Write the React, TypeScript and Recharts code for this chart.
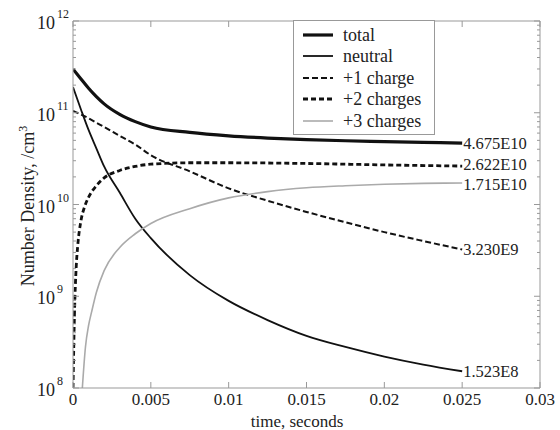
import { LineChart, Line, XAxis, YAxis, Legend } from "recharts";

// values (log y axis)
const timeMain = [0, 0.0005, 0.001, 0.0015, 0.002, 0.003, 0.004, 0.005, 0.0075, 0.01, 0.0125, 0.015, 0.0175, 0.02, 0.0225, 0.025];
const totalValues = [3.0e11, 2.35e11, 1.85e11, 1.5e11, 1.25e11, 9.6e10, 8.0e10, 7.0e10, 6.1e10, 5.6e10, 5.3e10, 5.1e10, 4.95e10, 4.85e10, 4.75e10, 4.675e10];
const neutralValues = [1.9e11, 1.1e11, 6.5e10, 4.1e10, 2.6e10, 1.35e10, 7.0e9, 4.3e9, 1.7e9, 8.9e8, 5.5e8, 3.7e8, 2.8e8, 2.2e8, 1.8e8, 1.523e8];
const plus1Values = [1.05e11, 9.6e10, 8.7e10, 7.8e10, 7.0e10, 5.6e10, 4.5e10, 3.45e10, 2.3e10, 1.5e10, 1.1e10, 8.3e9, 6.4e9, 5.0e9, 4.0e9, 3.23e9];

const timePlus2 = [0, 0.0001, 0.0002, 0.0003, 0.0005, 0.00075, 0.001, 0.0015, 0.002, 0.003, 0.004, 0.005, 0.0075, 0.01, 0.015, 0.02, 0.025];
const plus2Values = [1e8, 7e8, 2e9, 3.5e9, 6.5e9, 9.5e9, 1.2e10, 1.6e10, 1.95e10, 2.35e10, 2.6e10, 2.75e10, 2.85e10, 2.85e10, 2.8e10, 2.7e10, 2.622e10];

const timePlus3 = [0.0006, 0.0008, 0.001, 0.0012, 0.0015, 0.002, 0.003, 0.004, 0.005, 0.0075, 0.01, 0.0125, 0.015, 0.0175, 0.02, 0.0225, 0.025];
const plus3Values = [1e8, 2.8e8, 4.8e8, 6.8e8, 1.1e9, 1.9e9, 3.4e9, 4.8e9, 6.2e9, 9.0e9, 1.18e10, 1.38e10, 1.52e10, 1.6e10, 1.66e10, 1.7e10, 1.715e10];

const seriesNames = ["total", "neutral", "+1 charge", "+2 charges", "+3 charges"];
const endLabels = ["4.675E10", "1.523E8", "3.230E9", "2.622E10", "1.715E10"];

const xTicks = [0, 0.005, 0.01, 0.015, 0.02, 0.025, 0.03];
const xTickLabels = ["0", "0.005", "0.01", "0.015", "0.02", "0.025", "0.03"];
const decades = [8, 9, 10, 11, 12];
const minorSteps = [2, 3, 4, 5, 6, 7, 8, 9];

const yTicks: number[] = [];
decades.forEach((d) => {
  yTicks.push(Math.pow(10, d));
  if (d < 12) minorSteps.forEach((m) => yTicks.push(m * Math.pow(10, d)));
});

const toRows = (times: number[], values: number[]) => times.map((t, i) => ({ t, v: values[i] }));

const styles = [
  { stroke: "#111", strokeWidth: 3.2, dash: undefined, labelDy: 0 },
  { stroke: "#111", strokeWidth: 1.8, dash: undefined, labelDy: 0 },
  { stroke: "#111", strokeWidth: 2, dash: "6 3", labelDy: 0 },
  { stroke: "#111", strokeWidth: 2.8, dash: "5 3", labelDy: -1.5 },
  { stroke: "#aaa", strokeWidth: 1.6, dash: undefined, labelDy: 1 },
];

const series = [
  toRows(timeMain, totalValues),
  toRows(timeMain, neutralValues),
  toRows(timeMain, plus1Values),
  toRows(timePlus2, plus2Values),
  toRows(timePlus3, plus3Values),
];

const FONT = "Liberation Serif";
const AXIS = "#999";
const TEXT = "#222";

const isDecade = (v: number) => Math.abs(Math.log10(v) - Math.round(Math.log10(v))) < 1e-6;

const LeftTick = ({ x, y, payload }: any) => {
  const major = isDecade(payload.value);
  return (
    <g>
      <line x1={x} x2={x + (major ? 6 : 3)} y1={y} y2={y} stroke={AXIS} />
      {major && (
        <>
          <text x={x - 18} y={y + 8} textAnchor="end" fontSize={18} style={{ fontFamily: FONT }} fill={TEXT}>
            10
          </text>
          <text x={x - 16} y={y - 3} fontSize={12} style={{ fontFamily: FONT }} fill={TEXT}>
            {Math.round(Math.log10(payload.value))}
          </text>
        </>
      )}
    </g>
  );
};

const RightTick = ({ x, y, payload }: any) => {
  const major = isDecade(payload.value);
  return <line x1={x} x2={x - (major ? 6 : 3)} y1={y} y2={y} stroke={AXIS} />;
};

const BottomTick = ({ x, y, payload, index }: any) => (
  <g>
    <line x1={x} x2={x} y1={y} y2={y - 6} stroke={AXIS} />
    <text x={x} y={y + 17} textAnchor="middle" fontSize={17} style={{ fontFamily: FONT }} fill={TEXT}>
      {xTickLabels[index] ?? payload.value}
    </text>
  </g>
);

const TopTick = ({ x, y }: any) => <line x1={x} x2={x} y1={y} y2={y + 6} stroke={AXIS} />;

const endLabel = (i: number) => (p: any) => {
  if (p.index !== series[i].length - 1) return <g />;
  return (
    <text
      x={p.x + 1}
      y={p.y + styles[i].labelDy}
      dominantBaseline="central"
      fontSize={16.5}
      style={{ fontFamily: FONT }}
      fill={TEXT}
    >
      {endLabels[i]}
    </text>
  );
};

const LegendBox = () => (
  <div
    style={{
      border: "1px solid #999",
      background: "#fff",
      width: 140,
      padding: "3px 0 2px 0",
      fontFamily: FONT,
      fontSize: 18,
      color: TEXT,
    }}
  >
    {seriesNames.map((name, i) => (
      <div key={name} style={{ display: "flex", alignItems: "center", height: 21.5 }}>
        <svg width={44} height={10}>
          <line
            x1={9}
            x2={39}
            y1={5}
            y2={5}
            stroke={styles[i].stroke}
            strokeWidth={styles[i].strokeWidth}
            strokeDasharray={styles[i].dash}
          />
        </svg>
        <span style={{ marginLeft: 5, lineHeight: "18px" }}>{name}</span>
      </div>
    ))}
  </div>
);

export default function App() {
  return (
    <div style={{ position: "absolute", left: 0, top: 0, fontFamily: FONT }}>
      <LineChart width={560} height={430} margin={{ top: 0, right: 0, bottom: 12, left: 0 }}>
        <XAxis
          dataKey="t"
          type="number"
          domain={[0, 0.03]}
          ticks={xTicks}
          allowDataOverflow
          height={30}
          tickSize={0}
          tickMargin={0}
          tickLine={false}
          stroke={AXIS}
          tick={<BottomTick />}
          label={{
            content: () => (
              <text x={297} y={427} textAnchor="middle" fontSize={17} style={{ fontFamily: FONT }} fill={TEXT}>
                time, seconds
              </text>
            ),
          }}
        />
        <XAxis
          xAxisId="top"
          orientation="top"
          dataKey="t"
          type="number"
          domain={[0, 0.03]}
          ticks={xTicks}
          allowDataOverflow
          height={21}
          tickSize={0}
          tickMargin={0}
          tickLine={false}
          stroke={AXIS}
          tick={<TopTick />}
        />
        <YAxis
          scale="log"
          type="number"
          domain={[1e8, 1e12]}
          ticks={yTicks}
          allowDataOverflow
          width={73}
          tickSize={0}
          tickMargin={0}
          tickLine={false}
          interval={0}
          stroke={AXIS}
          tick={<LeftTick />}
          label={{
            content: () => (
              <text
                x={34}
                y={206}
                transform="rotate(-90 34 206)"
                textAnchor="middle"
                fontSize={18}
                style={{ fontFamily: FONT }}
                fill={TEXT}
              >
                Number Density, /cm
                <tspan fontSize={12} dy={-7}>
                  3
                </tspan>
              </text>
            ),
          }}
        />
        <YAxis
          yAxisId="right"
          orientation="right"
          scale="log"
          type="number"
          domain={[1e8, 1e12]}
          ticks={yTicks}
          allowDataOverflow
          width={20}
          tickSize={0}
          tickMargin={0}
          tickLine={false}
          interval={0}
          stroke={AXIS}
          tick={<RightTick />}
        />
        <Legend
          layout="vertical"
          align="center"
          verticalAlign="middle"
          wrapperStyle={{ left: 293, top: 20, width: 142 }}
          content={() => <LegendBox />}
        />
        {series.map((rows, i) => (
          <Line
            key={seriesNames[i]}
            data={rows}
            dataKey="v"
            name={seriesNames[i]}
            type="monotone"
            stroke={styles[i].stroke}
            strokeWidth={styles[i].strokeWidth}
            strokeDasharray={styles[i].dash}
            dot={false}
            activeDot={false}
            isAnimationActive={false}
            label={endLabel(i)}
          />
        ))}
      </LineChart>
    </div>
  );
}
